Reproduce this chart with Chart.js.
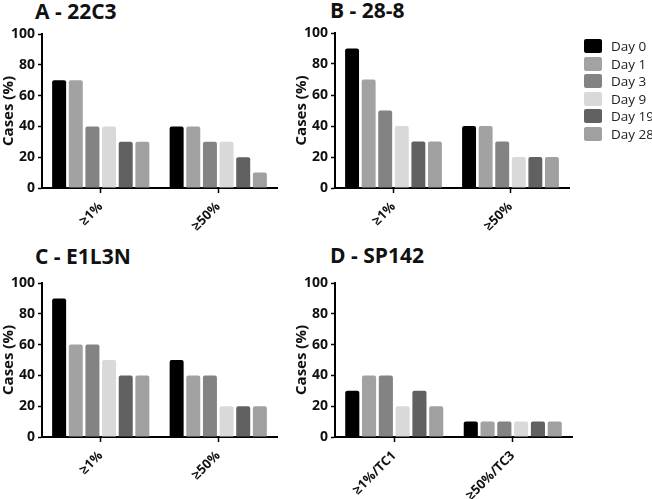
<!DOCTYPE html>
<html>
<head>
<meta charset="utf-8">
<script src="https://cdn.jsdelivr.net/npm/chart.js@4.4.1/dist/chart.umd.min.js"></script>
<style>
  body { margin: 0; background: #fff; }
  #wrap { position: relative; width: 652px; height: 499px; overflow: hidden; }
  .panel { position: absolute; }
  .ttl { position: absolute; font: bold 21px "Open Sans", sans-serif; line-height: 21px; color: #111; white-space: nowrap; }
  #legend { position: absolute; left: 584px; top: 39px; }
  .lg { position: relative; height: 17.5px; font: 13.5px "Open Sans", sans-serif; color: #222; white-space: nowrap; }
  .lg span.sw { position: absolute; left: 0; top: 0; width: 18px; height: 14px; border-radius: 2px; }
  .lg span.tx { position: absolute; left: 27px; top: -2px; line-height: 18px; }
</style>
</head>
<body>
<div id="wrap">
  <div class="ttl" style="left:35px; top:1px;">A - 22C3</div>
  <div class="ttl" style="left:330px; top:0px;">B - 28-8</div>
  <div class="ttl" style="left:35px; top:246px;">C - E1L3N</div>
  <div class="ttl" style="left:330px; top:245px;">D - SP142</div>
  <div class="panel" style="left:0; top:0; width:320px; height:250px;"><canvas id="chartA"></canvas></div>
  <div class="panel" style="left:293px; top:0; width:359px; height:250px;"><canvas id="chartB"></canvas></div>
  <div class="panel" style="left:0; top:250px; width:320px; height:249px;"><canvas id="chartC"></canvas></div>
  <div class="panel" style="left:293px; top:250px; width:359px; height:249px;"><canvas id="chartD"></canvas></div>
  <div id="legend"></div>
</div>
<script>
  "use strict";

  // days (series) and colours
  const days = ["Day 0", "Day 1", "Day 3", "Day 9", "Day 19", "Day 28"];
  const dayColors = ["#000000", "#a2a2a2", "#838383", "#d9d9d9", "#616161", "#a0a0a0"];

  // categories
  const cutoffs = ["≥1%", "≥50%"];
  const cutoffsSP = ["≥1%/TC1", "≥50%/TC3"];

  // values per day, [≥1%, ≥50%]
  const valsA = [[70, 40], [70, 40], [40, 30], [40, 30], [30, 20], [30, 10]];
  const valsB = [[90, 40], [70, 40], [50, 30], [40, 20], [30, 20], [30, 20]];
  const valsC = [[90, 50], [60, 40], [60, 40], [50, 20], [40, 20], [40, 20]];
  const valsD = [[30, 10], [40, 10], [40, 10], [20, 10], [30, 10], [20, 10]];

  const yTicks = [0, 20, 40, 60, 80, 100];

  const FONT = '"Open Sans", sans-serif';

  function makeChart(id, labels, vals, pad) {
    const ctx = document.getElementById(id);
    const datasets = days.map((d, i) => ({
      label: d,
      data: vals[i],
      backgroundColor: dayColors[i],
      borderRadius: 2,
      borderSkipped: 'bottom',
      categoryPercentage: 0.85,
      barPercentage: 0.84
    }));

    return new Chart(ctx, {
      type: 'bar',
      data: { labels: labels, datasets: datasets },
      options: {
        responsive: true,
        maintainAspectRatio: false,
        animation: false,
        layout: { padding: pad },
        plugins: {
          tooltip: { enabled: false },
          legend: { display: false }
        },
        scales: {
          x: {
            afterFit(scale) { scale.height = 62; },
            grid: {
              display: true, drawOnChartArea: false, offset: false,
              tickLength: 5, tickColor: '#000', tickWidth: 1.5
            },
            border: { display: true, color: '#000', width: 2 },
            ticks: {
              minRotation: 45, maxRotation: 45, padding: 6,
              color: '#111',
              font: { family: FONT, size: 13, weight: 'bold' }
            }
          },
          y: {
            min: 0,
            max: 100,
            afterFit(scale) { scale.width = 42; },
            afterBuildTicks(scale) { scale.ticks = yTicks.map(v => ({ value: v })); },
            grid: {
              display: true, drawOnChartArea: false,
              tickLength: 4, tickColor: '#000', tickWidth: 1.5
            },
            border: { display: true, color: '#000', width: 2 },
            ticks: {
              padding: 3,
              color: '#111',
              font: { family: FONT, size: 14, weight: 'bold' }
            },
            title: {
              display: true,
              text: 'Cases (%)',
              color: '#111',
              padding: 0,
              font: { family: FONT, size: 15, weight: 'bold' }
            }
          }
        }
      }
    });
  }

  makeChart('chartA', cutoffs, valsA, { top: 34, left: 0, right: 43, bottom: 0 });
  makeChart('chartB', cutoffs, valsB, { top: 33, left: 0, right: 83, bottom: 0 });
  makeChart('chartC', cutoffs, valsC, { top: 33, left: 0, right: 43, bottom: 0 });
  makeChart('chartD', cutoffsSP, valsD, { top: 33, left: 0, right: 80, bottom: 0 });

  // legend for the day series (shown beside panel B)
  const legend = document.getElementById('legend');
  days.forEach((d, i) => {
    const row = document.createElement('div');
    row.className = 'lg';
    row.innerHTML = '<span class="sw" style="background:' + dayColors[i] + '"></span><span class="tx">' + d + '</span>';
    legend.appendChild(row);
  });
</script>
</body>
</html>
